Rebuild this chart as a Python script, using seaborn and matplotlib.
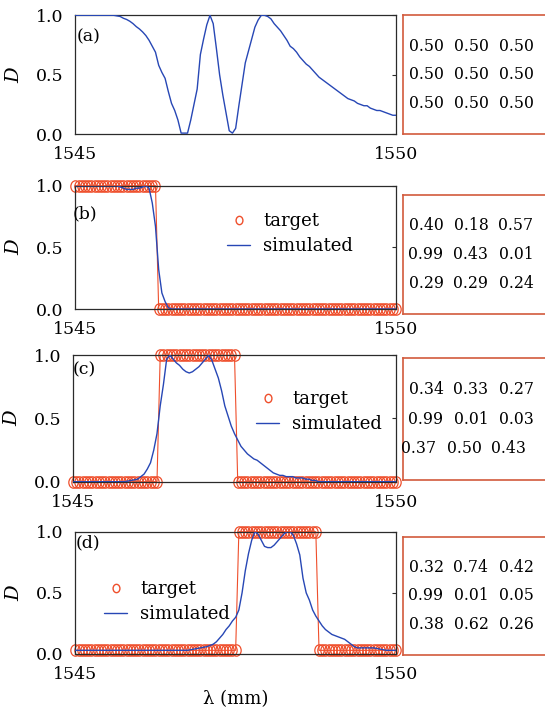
import numpy as np
import matplotlib
matplotlib.use('Agg')
import matplotlib.pyplot as plt
import seaborn as sns
from matplotlib.path import Path
from matplotlib.lines import Line2D
from matplotlib.transforms import blended_transform_factory

# --- data ---
# wavelength samples (nm), 0.05 nm step
wavelength = np.round(np.arange(1545.0, 1550.0 + 1e-9, 0.05), 2)

# simulated D, one row = 0.5 nm (10 samples), last value at 1550
sim_a = [1, 1, 1, 1, 1, 1, 1, 1, 1, 1,
         1, 1, 1, 0.995, 0.99, 0.975, 0.965, 0.95, 0.93, 0.905,
         0.885, 0.86, 0.83, 0.79, 0.74, 0.69, 0.58, 0.52, 0.47, 0.36,
         0.26, 0.20, 0.12, 0.01, 0.01, 0.01, 0.12, 0.25, 0.38, 0.67,
         0.80, 0.92, 1.0, 0.93, 0.72, 0.50, 0.33, 0.18, 0.03, 0.01,
         0.05, 0.24, 0.42, 0.60, 0.70, 0.80, 0.90, 0.96, 1.0, 1.0,
         0.99, 0.97, 0.93, 0.90, 0.87, 0.83, 0.79, 0.74, 0.72, 0.69,
         0.65, 0.62, 0.59, 0.57, 0.54, 0.51, 0.48, 0.46, 0.44, 0.42,
         0.40, 0.38, 0.36, 0.34, 0.32, 0.30, 0.29, 0.28, 0.26, 0.25,
         0.24, 0.24, 0.22, 0.21, 0.20, 0.20, 0.19, 0.18, 0.17, 0.16,
         0.16]

sim_b = [1, 1, 1, 1, 1, 1, 1, 1, 1, 1,
         1, 1, 1, 1, 0.99, 0.98, 0.97, 0.97, 0.97, 0.98,
         0.98, 0.99, 1.0, 0.98, 0.86, 0.67, 0.32, 0.13, 0.06, 0.01,
         0, 0, 0, 0, 0, 0, 0, 0, 0, 0,
         0, 0, 0, 0, 0, 0, 0, 0, 0, 0,
         0, 0, 0, 0, 0, 0, 0, 0, 0, 0,
         0, 0, 0, 0, 0, 0, 0, 0, 0, 0,
         0, 0, 0, 0, 0, 0, 0, 0, 0, 0,
         0, 0, 0, 0, 0, 0, 0, 0, 0, 0,
         0, 0, 0, 0, 0, 0, 0, 0, 0, 0,
         0]

sim_c = [0, 0, 0, 0, 0, 0, 0, 0, 0, 0,
         0, 0, 0, 0, 0, 0, 0, 0.005, 0.01, 0.015,
         0.02, 0.04, 0.06, 0.10, 0.15, 0.25, 0.38, 0.60, 0.77, 0.97,
         1.0, 0.97, 0.94, 0.92, 0.89, 0.87, 0.86, 0.87, 0.89, 0.91,
         0.94, 0.97, 1.0, 0.96, 0.89, 0.82, 0.72, 0.60, 0.52, 0.44,
         0.38, 0.33, 0.28, 0.25, 0.22, 0.20, 0.18, 0.17, 0.15, 0.13,
         0.11, 0.09, 0.07, 0.06, 0.05, 0.05, 0.04, 0.04, 0.04, 0.03,
         0.03, 0.03, 0.02, 0.02, 0.01, 0.01, 0, 0, 0, 0,
         0, 0, 0, 0, 0, 0, 0, 0, 0, 0,
         0, 0, 0, 0, 0, 0, 0, 0, 0, 0,
         0]

sim_d = [0.03, 0.03, 0.03, 0.03, 0.03, 0.03, 0.03, 0.03, 0.03, 0.03,
         0.03, 0.03, 0.03, 0.03, 0.03, 0.03, 0.03, 0.03, 0.03, 0.03,
         0.03, 0.03, 0.03, 0.03, 0.03, 0.03, 0.03, 0.03, 0.03, 0.03,
         0.03, 0.03, 0.03, 0.03, 0.03, 0.03, 0.035, 0.04, 0.045, 0.05,
         0.055, 0.06, 0.07, 0.08, 0.10, 0.13, 0.16, 0.20, 0.23, 0.27,
         0.30, 0.36, 0.50, 0.68, 0.82, 0.93, 1.0, 0.98, 0.93, 0.88,
         0.87, 0.87, 0.89, 0.92, 0.95, 0.98, 1.0, 1.0, 0.97, 0.90,
         0.81, 0.62, 0.50, 0.44, 0.36, 0.31, 0.27, 0.23, 0.20, 0.18,
         0.16, 0.15, 0.14, 0.13, 0.12, 0.10, 0.08, 0.06, 0.05, 0.05,
         0.05, 0.05, 0.05, 0.05, 0.045, 0.04, 0.035, 0.03, 0.03, 0.03,
         0.03]

# target D
target_b = [1, 1, 1, 1, 1, 1, 1, 1, 1, 1,
            1, 1, 1, 1, 1, 1, 1, 1, 1, 1,
            1, 1, 1, 1, 1, 1, 0, 0, 0, 0,
            0, 0, 0, 0, 0, 0, 0, 0, 0, 0,
            0, 0, 0, 0, 0, 0, 0, 0, 0, 0,
            0, 0, 0, 0, 0, 0, 0, 0, 0, 0,
            0, 0, 0, 0, 0, 0, 0, 0, 0, 0,
            0, 0, 0, 0, 0, 0, 0, 0, 0, 0,
            0, 0, 0, 0, 0, 0, 0, 0, 0, 0,
            0, 0, 0, 0, 0, 0, 0, 0, 0, 0,
            0]

target_c = [0, 0, 0, 0, 0, 0, 0, 0, 0, 0,
            0, 0, 0, 0, 0, 0, 0, 0, 0, 0,
            0, 0, 0, 0, 0, 0, 0, 1, 1, 1,
            1, 1, 1, 1, 1, 1, 1, 1, 1, 1,
            1, 1, 1, 1, 1, 1, 1, 1, 1, 1,
            1, 0, 0, 0, 0, 0, 0, 0, 0, 0,
            0, 0, 0, 0, 0, 0, 0, 0, 0, 0,
            0, 0, 0, 0, 0, 0, 0, 0, 0, 0,
            0, 0, 0, 0, 0, 0, 0, 0, 0, 0,
            0, 0, 0, 0, 0, 0, 0, 0, 0, 0,
            0]

target_d = [0.03, 0.03, 0.03, 0.03, 0.03, 0.03, 0.03, 0.03, 0.03, 0.03,
            0.03, 0.03, 0.03, 0.03, 0.03, 0.03, 0.03, 0.03, 0.03, 0.03,
            0.03, 0.03, 0.03, 0.03, 0.03, 0.03, 0.03, 0.03, 0.03, 0.03,
            0.03, 0.03, 0.03, 0.03, 0.03, 0.03, 0.03, 0.03, 0.03, 0.03,
            0.03, 0.03, 0.03, 0.03, 0.03, 0.03, 0.03, 0.03, 0.03, 0.03,
            0.03, 1, 1, 1, 1, 1, 1, 1, 1, 1,
            1, 1, 1, 1, 1, 1, 1, 1, 1, 1,
            1, 1, 1, 1, 1, 1, 0.03, 0.03, 0.03, 0.03,
            0.03, 0.03, 0.03, 0.03, 0.03, 0.03, 0.03, 0.03, 0.03, 0.03,
            0.03, 0.03, 0.03, 0.03, 0.03, 0.03, 0.03, 0.03, 0.03, 0.03,
            0.03]

# 3x3 parameter tables shown in the boxes
params_a = [[0.50, 0.50, 0.50], [0.50, 0.50, 0.50], [0.50, 0.50, 0.50]]
params_b = [[0.40, 0.18, 0.57], [0.99, 0.43, 0.01], [0.29, 0.29, 0.24]]
params_c = [[0.34, 0.33, 0.27], [0.99, 0.01, 0.03], [0.37, 0.50, 0.43]]
params_d = [[0.32, 0.74, 0.42], [0.99, 0.01, 0.05], [0.38, 0.62, 0.26]]

# --- style ---
sns.set_theme(style='white')
plt.rcParams['font.family'] = ['DejaVu Serif']
plt.rcParams['mathtext.fontset'] = 'dejavuserif'
for key in ['text.color', 'axes.labelcolor', 'xtick.color', 'ytick.color']:
    plt.rcParams[key] = 'black'

RED = '#ef4f2c'
BLUE = '#2747b5'
BOX = '#d25a3c'
FRAME = '#2b2b2b'

W, H = 545, 707
fig = plt.figure(figsize=(W / 100, H / 100), dpi=100)

# ellipse marker (taller than wide)
circ = Path.unit_circle()
ellipse = Path(circ.vertices * np.array([0.82, 1.0]), circ.codes)

def px_rect(left, right, top, bottom):
    return [left / W, 1 - bottom / H, (right - left) / W, (bottom - top) / H]

# layout in pixels: axes, box, tag position, legend anchor
panels = [
    dict(tag='(a)', sim=sim_a, target=None, params=params_a,
         ax=(75.3, 396, 15.3, 134.3), box=(15.3, 134.3),
         tag_xy=(0.004, 0.82), legend=None),
    dict(tag='(b)', sim=sim_b, target=target_b, params=params_b,
         ax=(75.3, 396, 185.7, 309), box=(195, 314),
         tag_xy=(-0.008, 0.775), legend=(227, 233.5)),
    dict(tag='(c)', sim=sim_c, target=target_c, params=params_c,
         ax=(73, 396, 355.3, 481.7), box=(358.3, 480),
         tag_xy=(0.0, 0.885), legend=(256, 411.5)),
    dict(tag='(d)', sim=sim_d, target=target_d, params=params_d,
         ax=(75.3, 396, 531.7, 654), box=(536.7, 655),
         tag_xy=(0.0, 0.906), legend=(104, 601.7)),
]

col_x = [426, 471, 516]
row_y = [0.74, 0.50, 0.255]

for k, p in enumerate(panels):
    ax = fig.add_axes(px_rect(*p['ax']))
    if p['target'] is not None:
        sns.lineplot(x=wavelength, y=p['target'], ax=ax, color=RED, lw=0.8,
                     marker=ellipse, markersize=8.2, markerfacecolor='none',
                     markeredgecolor=RED, markeredgewidth=0.9,
                     estimator=None, sort=False, clip_on=False, zorder=2)
    sns.lineplot(x=wavelength, y=p['sim'], ax=ax, color=BLUE, lw=1.0,
                 estimator=None, sort=False, zorder=3)

    ax.set_xlim(1545, 1550)
    ax.set_ylim(0, 1)
    ax.set_xticks([1545, 1550])
    ax.set_xticklabels(['1545', '1550'])
    ax.set_yticks([0, 0.5, 1.0])
    ax.set_yticklabels(['0.0', '0.5', '1.0'])
    ax.tick_params(axis='x', length=0, pad=8.5, labelsize=12.5)
    ax.tick_params(axis='y', direction='in', length=3, width=0.8,
                   right=True, pad=8.5, labelsize=12.5, color=FRAME)
    for s in ax.spines.values():
        s.set_color(FRAME)
        s.set_linewidth(0.9)
    ax.set_ylabel('D', fontstyle='italic', fontsize=14, labelpad=9)
    ax.set_xlabel('')
    ax.text(p['tag_xy'][0], p['tag_xy'][1], p['tag'], transform=ax.transAxes,
            ha='left', va='center', fontsize=12.5)

    if p['legend'] is not None:
        handles = [
            Line2D([], [], ls='none', marker=ellipse, markersize=6,
                   markerfacecolor='none', markeredgecolor=RED,
                   markeredgewidth=1.0, label='target'),
            Line2D([], [], color=BLUE, lw=1.0, label='simulated'),
        ]
        lx, ly = p['legend']
        ax.legend(handles=handles, loc='center left',
                  bbox_to_anchor=(lx / W, 1 - ly / H),
                  bbox_transform=fig.transFigure, frameon=False,
                  fontsize=13, borderpad=0, borderaxespad=0,
                  handlelength=1.3, handletextpad=0.7, labelspacing=0.4)

    # parameter box to the right (runs past the figure edge)
    top, bottom = p['box']
    bx = fig.add_axes(px_rect(402.7, 600, top, bottom))
    bx.set_xticks([])
    bx.set_yticks([])
    bx.set_facecolor('white')
    for s in bx.spines.values():
        s.set_color(BOX)
        s.set_linewidth(1.2)
    trans = blended_transform_factory(fig.transFigure, bx.transAxes)
    for i, row in enumerate(p['params']):
        for j, v in enumerate(row):
            shift = -7 if (k == 2 and i == 2) else 0
            bx.text((col_x[j] + shift) / W, row_y[i], f'{v:.2f}',
                    transform=trans, ha='center', va='center', fontsize=11.3)

ax.set_xlabel('λ (mm)', fontsize=13, labelpad=5)

fig.savefig('out.png', dpi=100)
